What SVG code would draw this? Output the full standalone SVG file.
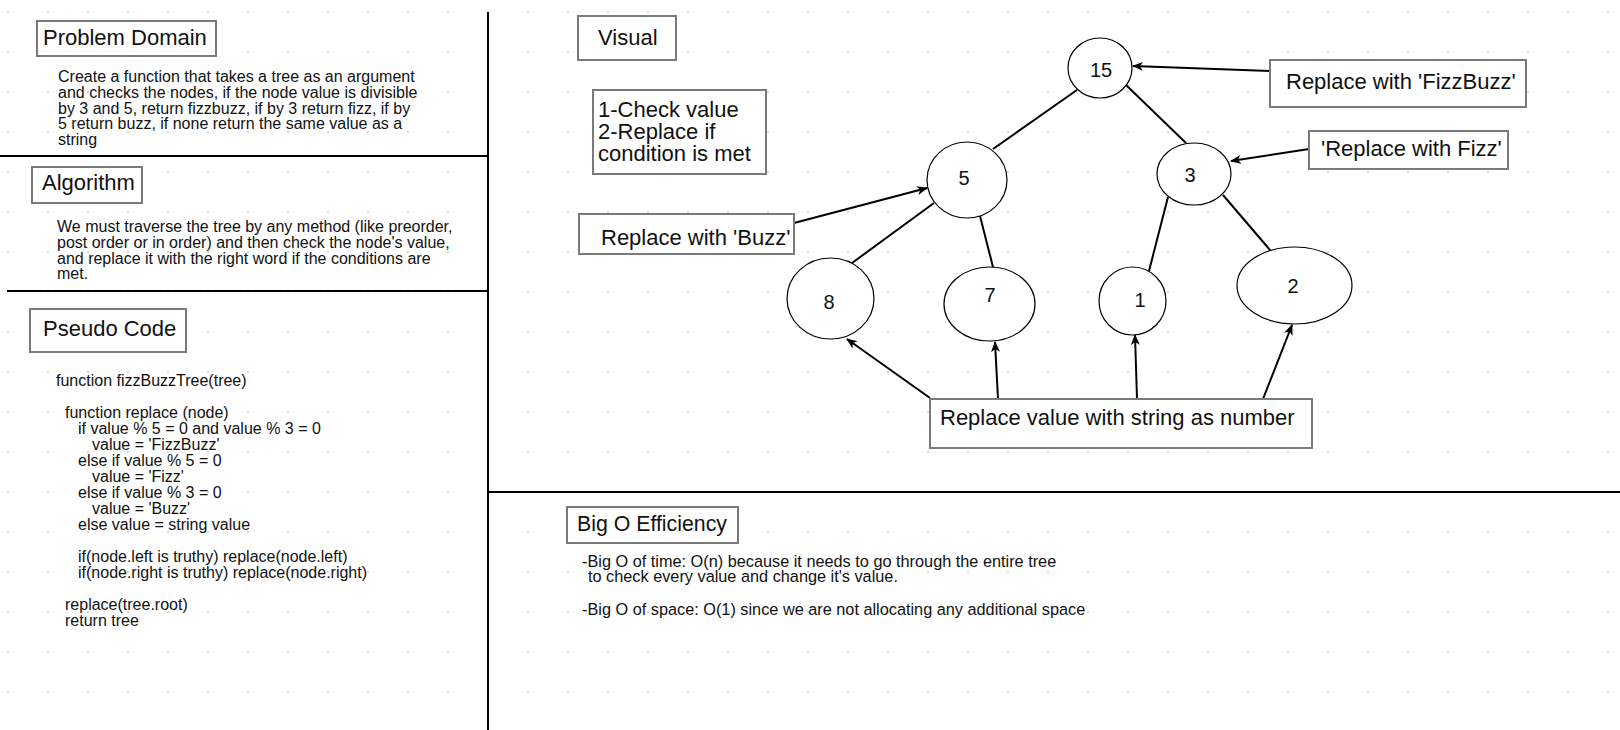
<svg xmlns="http://www.w3.org/2000/svg" width="1620" height="730" viewBox="0 0 1620 730">
<style>
text{font-family:"Liberation Sans",Arial,Helvetica,sans-serif;fill:#111}
.t22{font-size:22px}
.t20{font-size:20px}
.t16{font-size:16px}
.tb{font-size:16.3px}
.box{fill:#fff;stroke:#7a7a7a;stroke-width:2}
.node{fill:#fff;stroke:#000;stroke-width:1.2}
.div{stroke:#000;stroke-width:2;fill:none}
.edge{stroke:#000;stroke-width:2;fill:none}
.arrow{stroke:#000;stroke-width:2;fill:none;marker-end:url(#ah)}
.mid{text-anchor:middle}
</style>
<defs>
<pattern id="grid" x="0" y="0" width="40" height="40" patternUnits="userSpaceOnUse">
<rect x="7" y="11" width="2" height="2" fill="#d6d6d6"/>
</pattern>
<marker id="ah" markerUnits="userSpaceOnUse" markerWidth="12" markerHeight="10" refX="10" refY="4.5" orient="auto">
<path d="M0,0 L11,4.5 L0,9 L3,4.5 Z" fill="#000"/>
</marker>
</defs>
<rect width="1620" height="730" fill="#fff"/>
<rect width="1620" height="730" fill="url(#grid)"/>

<g id="dividers">
<line class="div" x1="488" y1="12" x2="488" y2="730"/>
<line class="div" x1="0" y1="156" x2="488" y2="156"/>
<line class="div" x1="7" y1="291" x2="488" y2="291"/>
<line class="div" x1="488" y1="492" x2="1620" y2="492"/>
</g>

<g id="problem-domain">
<rect class="box" x="37" y="21" width="179" height="35"/>
<text class="t22" x="43" y="45">Problem Domain</text>
<text class="t16" x="58" y="82">Create a function that takes a tree as an argument</text>
<text class="t16" x="58" y="98">and checks the nodes, if the node value is divisible</text>
<text class="t16" x="58" y="113.5">by 3 and 5, return fizzbuzz, if by 3 return fizz, if by</text>
<text class="t16" x="58" y="129">5 return buzz, if none return the same value as a</text>
<text class="t16" x="58" y="145">string</text>
</g>

<g id="algorithm">
<rect class="box" x="32" y="167" width="110" height="36"/>
<text class="t22" x="42" y="190">Algorithm</text>
<text class="t16" x="57" y="232">We must traverse the tree by any method (like preorder,</text>
<text class="t16" x="57" y="248">post order or in order) and then check the node's value,</text>
<text class="t16" x="57" y="263.5">and replace it with the right word if the conditions are</text>
<text class="t16" x="57" y="279">met.</text>
</g>

<g id="pseudo-code">
<rect class="box" x="30" y="309" width="156" height="43"/>
<text class="t22" x="43" y="336">Pseudo Code</text>
<text class="t16" x="56" y="386">function fizzBuzzTree(tree)</text>
<text class="t16" x="65" y="418">function replace (node)</text>
<text class="t16" x="78" y="434">if value % 5 = 0 and value % 3 = 0</text>
<text class="t16" x="92" y="450">value = 'FizzBuzz'</text>
<text class="t16" x="78" y="466">else if value % 5 = 0</text>
<text class="t16" x="92" y="482">value = 'Fizz'</text>
<text class="t16" x="78" y="498">else if value % 3 = 0</text>
<text class="t16" x="92" y="514">value = 'Buzz'</text>
<text class="t16" x="78" y="530">else value = string value</text>
<text class="t16" x="78" y="562">if(node.left is truthy) replace(node.left)</text>
<text class="t16" x="78" y="578">if(node.right is truthy) replace(node.right)</text>
<text class="t16" x="65" y="610">replace(tree.root)</text>
<text class="t16" x="65" y="626">return tree</text>
</g>

<g id="visual-title">
<rect class="box" x="578" y="16" width="98" height="44"/>
<text class="t22" x="598" y="45">Visual</text>
</g>

<g id="steps">
<rect class="box" x="593" y="90" width="173" height="84"/>
<text class="t22" x="598" y="117">1-Check value</text>
<text class="t22" x="598" y="139">2-Replace if</text>
<text class="t22" x="598" y="161">condition is met</text>
</g>

<g id="connectors">
<line class="edge" x1="1077" y1="90" x2="993" y2="149"/>
<line class="edge" x1="1126" y1="85" x2="1186" y2="143"/>
<line class="edge" x1="934" y1="203" x2="852" y2="263"/>
<line class="edge" x1="980" y1="216" x2="993" y2="267"/>
<line class="edge" x1="1168" y1="197" x2="1149" y2="271"/>
<line class="edge" x1="1223" y1="195" x2="1270" y2="250"/>
<line class="arrow" x1="1270" y1="71" x2="1133" y2="66"/>
<line class="arrow" x1="1309" y1="149" x2="1231" y2="161"/>
<line class="arrow" x1="794" y1="223" x2="927" y2="188"/>
<line class="arrow" x1="930" y1="398" x2="847" y2="339"/>
<line class="arrow" x1="998" y1="399" x2="995" y2="342"/>
<line class="arrow" x1="1137" y1="399" x2="1135" y2="335"/>
<line class="arrow" x1="1263" y1="399" x2="1292" y2="325"/>
</g>

<g id="node-15">
<ellipse class="node" cx="1100" cy="68" rx="32" ry="30"/>
<text class="t20 mid" x="1101" y="77">15</text>
</g>
<g id="node-5">
<ellipse class="node" cx="967" cy="180" rx="40" ry="38"/>
<text class="t20 mid" x="964" y="185">5</text>
</g>
<g id="node-3">
<ellipse class="node" cx="1194" cy="174" rx="37" ry="31"/>
<text class="t20 mid" x="1190" y="182">3</text>
</g>
<g id="node-8">
<ellipse class="node" cx="830.5" cy="298.5" rx="43.5" ry="40.5"/>
<text class="t20 mid" x="829" y="309">8</text>
</g>
<g id="node-7">
<ellipse class="node" cx="989.5" cy="304" rx="45.5" ry="37"/>
<text class="t20 mid" x="990" y="302">7</text>
</g>
<g id="node-1">
<ellipse class="node" cx="1132.5" cy="301" rx="33.5" ry="34"/>
<text class="t20 mid" x="1140" y="307">1</text>
</g>
<g id="node-2">
<ellipse class="node" cx="1294.5" cy="285.5" rx="57.5" ry="38.5"/>
<text class="t20 mid" x="1293" y="293">2</text>
</g>

<g id="label-fizzbuzz">
<rect class="box" x="1270" y="60" width="256" height="47"/>
<text class="t22" x="1286" y="89">Replace with 'FizzBuzz'</text>
</g>
<g id="label-fizz">
<rect class="box" x="1309" y="131" width="199" height="38"/>
<text class="t22" x="1321" y="156">'Replace with Fizz'</text>
</g>
<g id="label-buzz">
<rect class="box" x="579" y="214" width="215" height="40"/>
<text class="t22" x="601" y="245">Replace with 'Buzz'</text>
</g>
<g id="label-number">
<rect class="box" x="930" y="399" width="382" height="49"/>
<text class="t22" x="940" y="425">Replace value with string as number</text>
</g>

<g id="big-o">
<rect class="box" x="567" y="507" width="171" height="36"/>
<text x="577" y="531" style="font-size:21.3px">Big O Efficiency</text>
<text class="tb" x="582" y="567">-Big O of time: O(n) because it needs to go through the entire tree</text>
<text class="tb" x="588" y="582">to check every value and change it's value.</text>
<text class="tb" x="582" y="615">-Big O of space: O(1) since we are not allocating any additional space</text>
</g>
</svg>
